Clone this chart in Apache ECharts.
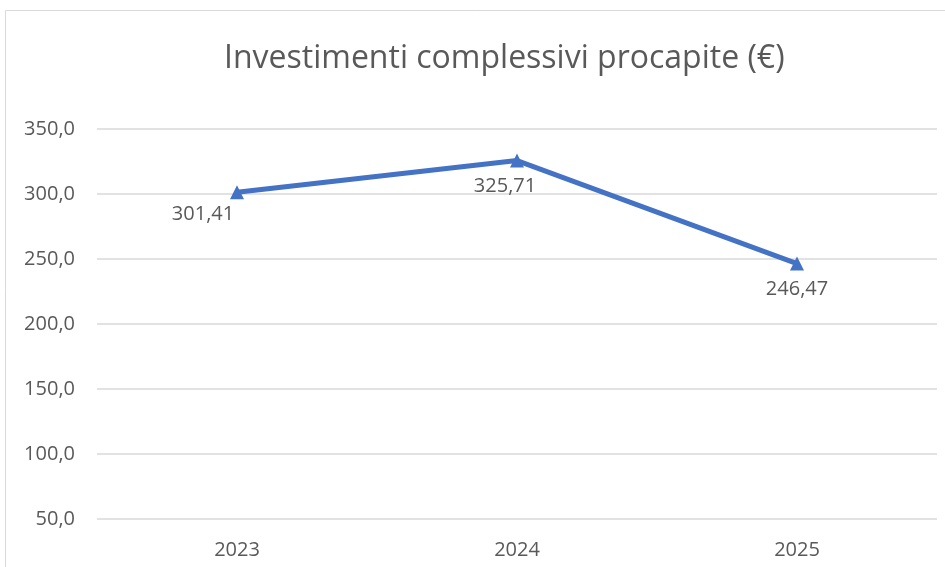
<!DOCTYPE html>
<html style="height: 100%">
<head>
    <meta charset="utf-8">
</head>
<body style="height: 100%; margin: 0; background: #fff">
    <div id="container" style="width: 945px; height: 567px"></div>
    <script type="text/javascript" src="https://cdn.jsdelivr.net/npm/echarts/dist/echarts.min.js"></script>
    <script type="text/javascript">
        // dati
        var anni = ['2023', '2024', '2025'];
        var investimenti = [301.41, 325.71, 246.47];
        var yTicks = [50, 100, 150, 200, 250, 300, 350];

        // spostamento etichette (come nel grafico originale)
        var labelShift = [[-34, 1], [-12, 5], [0, 5]];

        var dom = document.getElementById("container");
        var myChart = echarts.init(dom);
        var grigio = '#595959';

        var option = {
            backgroundColor: '#fff',
            textStyle: { fontFamily: 'Open Sans' },
            title: {
                text: 'Investimenti complessivi procapite (€)',
                left: 219,
                top: 38,
                textStyle: {
                    color: grigio,
                    fontSize: 32,
                    fontWeight: 'normal',
                    fontFamily: 'Open Sans'
                }
            },
            graphic: [{
                type: 'rect',
                shape: { x: 5.5, y: 10.5, width: 1000, height: 600 },
                style: { fill: 'none', stroke: '#d9d9d9', lineWidth: 1 },
                silent: true
            }],
            grid: {
                left: 97,
                right: 8,
                top: 129,
                bottom: 48
            },
            xAxis: {
                type: 'category',
                data: anni,
                axisLine: { show: false },
                axisTick: { show: false },
                axisLabel: {
                    color: grigio,
                    fontSize: 20,
                    margin: 21
                }
            },
            yAxis: {
                type: 'value',
                min: yTicks[0],
                max: yTicks[yTicks.length - 1],
                interval: 50,
                axisLine: { show: false },
                axisTick: { show: false },
                splitLine: { lineStyle: { color: '#d9d9d9', width: 1.5 } },
                axisLabel: {
                    color: grigio,
                    fontSize: 20,
                    margin: 22,
                    formatter: function (v) { return v.toFixed(1).replace('.', ','); }
                }
            },
            series: [{
                type: 'line',
                data: investimenti.map(function (v, i) {
                    return { value: v, label: { offset: labelShift[i] } };
                }),
                symbol: 'triangle',
                symbolSize: 14,
                lineStyle: { color: '#4472C4', width: 5 },
                itemStyle: { color: '#4472C4' },
                label: {
                    show: true,
                    position: 'bottom',
                    distance: 4,
                    color: grigio,
                    fontSize: 20,
                    formatter: function (p) { return p.value.toFixed(2).replace('.', ','); }
                }
            }]
        };
        myChart.setOption(option);
    </script>
</body>
</html>
